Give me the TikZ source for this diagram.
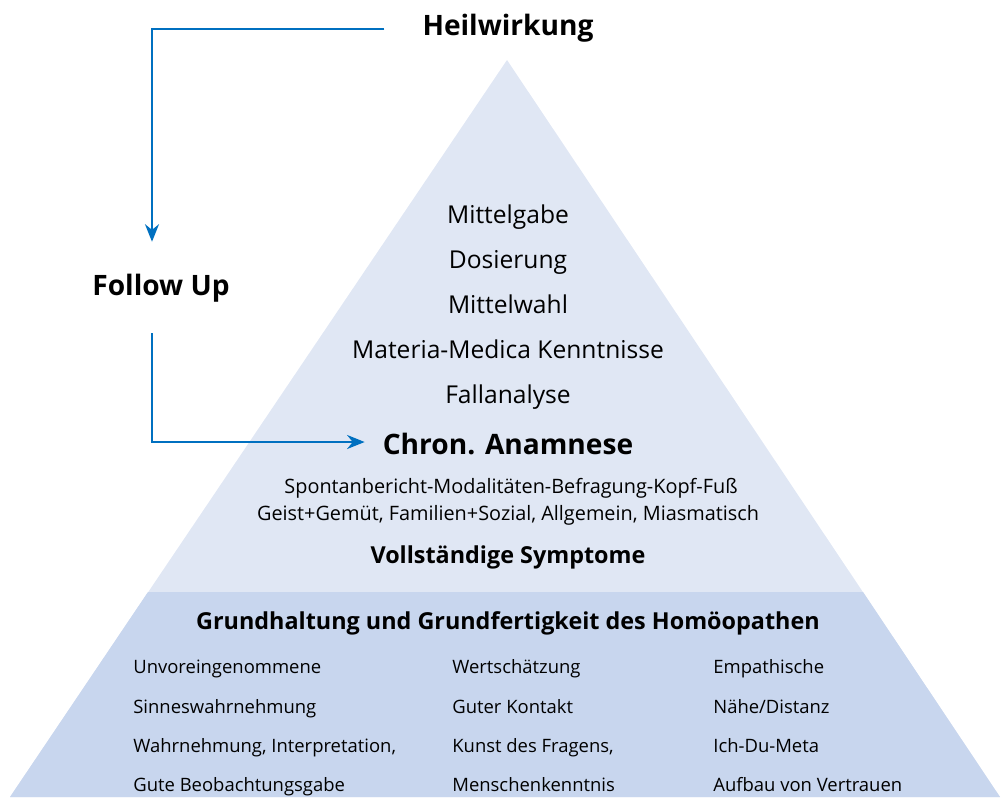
\documentclass[tikz,border=0pt]{standalone}
\usepackage{fontspec}
\setmainfont{Open Sans}
\usepackage{xcolor}
\usetikzlibrary{arrows.meta}

\definecolor{pyrtop}{RGB}{224,231,244}
\definecolor{pyrbase}{RGB}{200,214,238}
\definecolor{flowblue}{RGB}{0,112,192}

\begin{document}
\begin{tikzpicture}[x=0.02cm,y=-0.02cm,
  kopf/.style={font=\bfseries\fontsize{16}{19}\selectfont},
  unterkopf/.style={font=\bfseries\fontsize{13.3}{16}\selectfont},
  stufe/.style={font=\fontsize{14}{17}\selectfont,text height=1.6ex,text depth=.4ex},
  klein/.style={font=\fontsize{11.3}{14}\selectfont},
  spalte/.style={anchor=west,inner xsep=0pt,text height=1.6ex,text depth=.4ex,font=\fontsize{10.5}{13}\selectfont},
  flow/.style={draw=flowblue,line width=1.2pt,-{Stealth[length=10pt,width=8pt]}}]

\useasboundingbox (0,0) rectangle (1003,797);

% pyramid
\fill[pyrtop] (507,60) -- (10,797) -- (1000,797) -- cycle;
\fill[pyrbase] (148,592) -- (863,592) -- (1000,797) -- (10,797) -- cycle;

\node[kopf] (heil) at (508,28) {Heilwirkung};
\node[kopf] (follow) at (161,288) {Follow Up};

\node[stufe] (gabe) at (508,218) {Mittelgabe};
\node[stufe] (dosis) at (508,263) {Dosierung};
\node[stufe] (wahl) at (508,308) {Mittelwahl};
\node[stufe] (mm) at (508,353) {Materia-Medica Kenntnisse};
\node[stufe] (fall) at (508,398) {Fallanalyse};
\node[kopf] (anam) at (508,444) {Chron. Anamnese};
\node[klein] (spont) at (511,488) {Spontanbericht-Modalitäten-Befragung-Kopf-Fuß};
\node[klein] (geist) at (508,515) {Geist+Gemüt, Familien+Sozial, Allgemein, Miasmatisch};
\node[unterkopf] (voll) at (508,557) {Vollständige Symptome};

\node[unterkopf] (grund) at (508,623) {Grundhaltung und Grundfertigkeit des Homöopathen};

\node[spalte] (a1) at (133,668) {Unvoreingenommene};
\node[spalte] (a2) at (133,708) {Sinneswahrnehmung};
\node[spalte] (a3) at (133,747) {Wahrnehmung, Interpretation,};
\node[spalte] (a4) at (133,786) {Gute Beobachtungsgabe};
\node[spalte] (b1) at (452,668) {Wertschätzung};
\node[spalte] (b2) at (452,708) {Guter Kontakt};
\node[spalte] (b3) at (452,747) {Kunst des Fragens,};
\node[spalte] (b4) at (452,786) {Menschenkenntnis};
\node[spalte] (c1) at (713,668) {Empathische};
\node[spalte] (c2) at (713,708) {Nähe/Distanz};
\node[spalte] (c3) at (713,747) {Ich-Du-Meta};
\node[spalte] (c4) at (713,786) {Aufbau von Vertrauen};

% feedback loop
\draw[flow] ([xshift=-0.64cm,yshift=-0.02cm]heil.west) -| ([xshift=-0.18cm,yshift=0.52cm]follow.north);
\draw[flow] ([xshift=-0.18cm,yshift=-0.5cm]follow.south) |- ([xshift=-0.24cm,yshift=0.04cm]anam.west);

\end{tikzpicture}
\end{document}
